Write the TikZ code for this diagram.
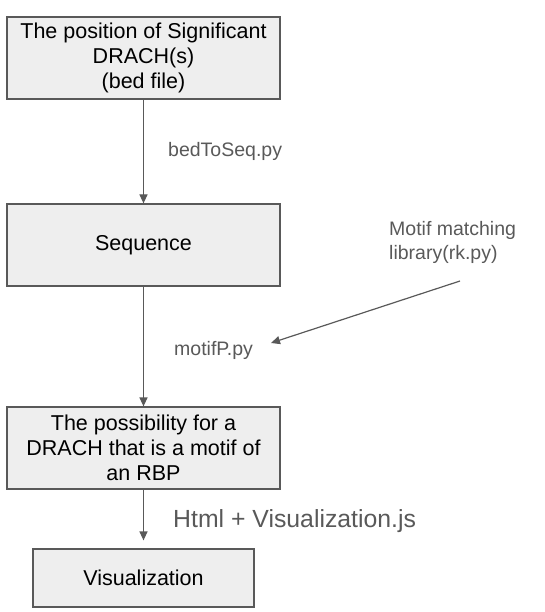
\documentclass[tikz,border=0pt]{standalone}
\usepackage{fontspec}
\setmainfont{Liberation Sans}
\usepackage{xcolor}
\usetikzlibrary{arrows.meta}
\definecolor{boxfill}{HTML}{EEEEEE}
\definecolor{linegray}{HTML}{595959}

\begin{document}
\begin{tikzpicture}[x=1pt,y=-1pt,
	stepbox/.style={draw=linegray, fill=boxfill, line width=1.2pt, inner sep=0pt,
		align=center, font=\fontsize{21.5}{24.7}\selectfont},
	flow/.style={draw=linegray, line width=1.2pt, -{Triangle[length=9pt,width=8pt]}},
	tool/.style={text=linegray, inner sep=0pt, font=\fontsize{19.5}{24}\selectfont}]
	\useasboundingbox (0,0) rectangle (544,612);

	\node[stepbox, minimum width=273pt, minimum height=82pt] (bed) at (143.5,58)
		{The position of Significant\\DRACH(s)\\(bed file)};
	\node[stepbox, minimum width=273pt, minimum height=82pt] (seq) at (143.5,245) {Sequence};
	\node[stepbox, minimum width=273pt, minimum height=82pt] (poss) at (143.5,448)
		{The possibility for a\\DRACH that is a motif of\\an RBP};
	\node[stepbox, minimum width=221pt, minimum height=58pt] (vis) at (143.5,578) {Visualization};

	\draw[flow] (bed) -- (seq);
	\draw[flow] (seq) -- (poss);
	\draw[flow, shorten >=8pt] (poss) -- (vis);

	\node[tool, anchor=base west] (bedtoseq) at (168,157) {bedToSeq.py};
	\node[tool, anchor=base west] (motifp) at (174,355) {motifP.py};
	\node[tool, anchor=west, align=left] (lib) at (389,242) {Motif matching\\library(rk.py)};
	\node[tool, anchor=base west, font=\fontsize{24.8}{28}\selectfont] (html) at (173,527)
		{Html + Visualization.js};

	\coordinate (libout) at (460,281);
	\coordinate (libin) at (271,343);
	\draw[flow] (libout) -- (libin);
\end{tikzpicture}
\end{document}
